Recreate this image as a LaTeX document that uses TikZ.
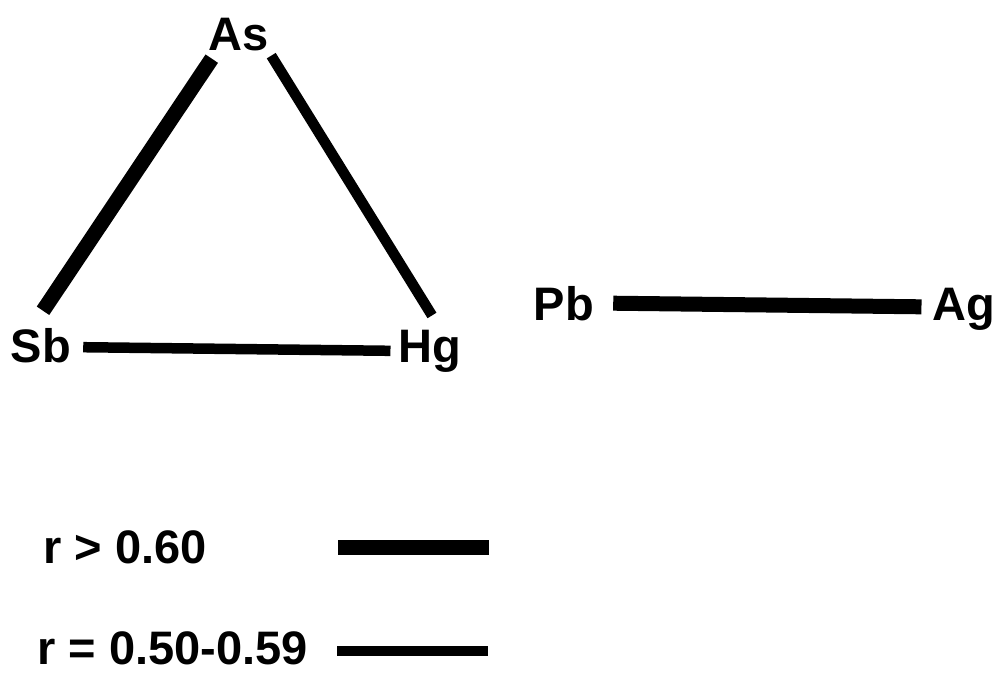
\documentclass[tikz,border=0pt]{standalone}
\usepackage{fontspec}
\setmainfont{Liberation Sans}
\usepackage{tikz}
\usetikzlibrary{calc}
\tikzset{
  elem/.style={
    font=\fontsize{47}{50}\selectfont\bfseries,
    inner sep=0pt, anchor=base
  },
  keytext/.style={
    font=\fontsize{47}{50}\selectfont\bfseries,
    inner sep=0pt, anchor=base west
  },
  strong/.style={line width=15pt, line cap=butt},
  weak/.style={line width=10.5pt, line cap=butt},
}

\begin{document}
\begin{tikzpicture}[x=1pt, y=-1pt]
    \useasboundingbox (0,0) rectangle (1002,673);

    % elements
    \node[elem] (as) at (239,50)  {As};
    \node[elem] (sb) at (41,362)  {Sb};
    \node[elem] (hg) at (430,362) {Hg};
    \node[elem] (pb) at (564,320) {Pb};
    \node[elem] (ag) at (964,320) {Ag};

    % correlations
    \draw[strong] ([shift={(3,8)}]as.south west) -- ([shift={(2,-17)}]sb.north);
    \draw[weak] ([shift={(2,5)}]as.south east) -- ([shift={(2,-14)}]hg.north);
    \draw[weak] ([shift={(12,2)}]sb.east) -- ([shift={(-8,0)}]hg.west);
    \draw[strong] ([shift={(19,0)}]pb.east) -- ([shift={(-11,-2)}]ag.west);

    % key
    \node[keytext] (keyhi) at (43,563) {r > 0.60};
    \node[keytext] (keylo) at (37,664) {r = 0.50-0.59};
    \coordinate (hiL) at (338,547);
    \coordinate (hiR) at (489,547);
    \coordinate (loL) at (337,651);
    \coordinate (loR) at (488,651);
    \draw[strong] (hiL) -- (hiR);
    \draw[weak] (loL) -- (loR);
\end{tikzpicture}
\end{document}
